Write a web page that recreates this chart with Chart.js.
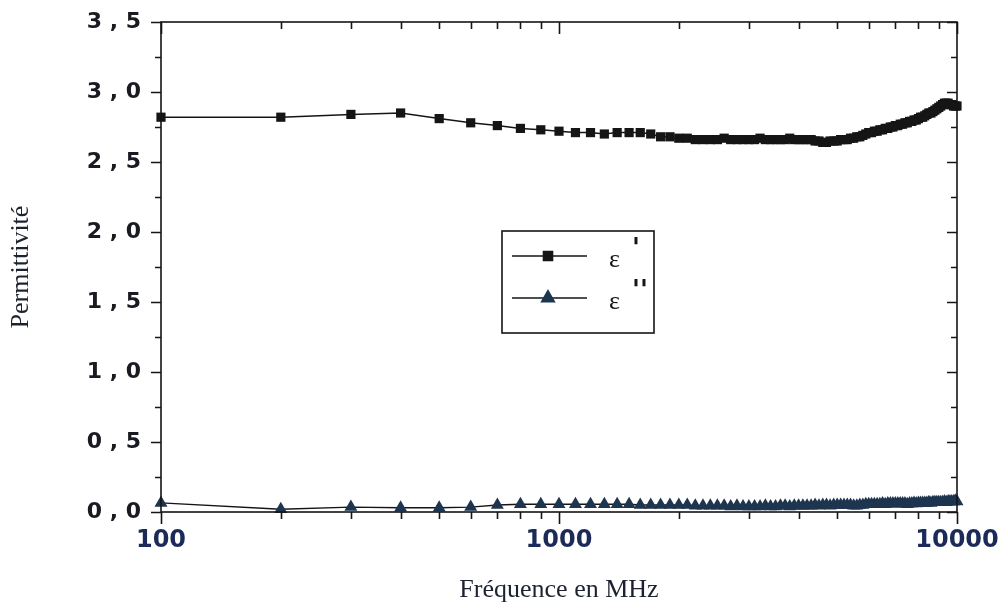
<!DOCTYPE html>
<html>
<head>
<meta charset="utf-8">
<title>Permittivité</title>
<script src="https://cdn.jsdelivr.net/npm/chart.js@4/dist/chart.umd.min.js"></script>
<style>
  body { margin: 0; background: #fff; }
  #wrap { width: 1002px; height: 606px; }
</style>
</head>
<body>
<div id="wrap"><canvas id="permChart" width="1002" height="606"></canvas></div>
<script>
// Fréquences (MHz)
const freqs = [
  100, 200, 300, 400, 500, 600, 700, 800, 900, 1000,
  1100, 1200, 1300, 1400, 1500, 1600, 1700, 1800, 1900, 2000,
  2100, 2200, 2300, 2400, 2500, 2600, 2700, 2800, 2900, 3000,
  3100, 3200, 3300, 3400, 3500, 3600, 3700, 3800, 3900, 4000,
  4100, 4200, 4300, 4400, 4500, 4600, 4700, 4800, 4900, 5000,
  5100, 5200, 5300, 5400, 5500, 5600, 5700, 5800, 5900, 6000,
  6100, 6200, 6300, 6400, 6500, 6600, 6700, 6800, 6900, 7000,
  7100, 7200, 7300, 7400, 7500, 7600, 7700, 7800, 7900, 8000,
  8100, 8200, 8300, 8400, 8500, 8600, 8700, 8800, 8900, 9000,
  9100, 9200, 9300, 9400, 9500, 9600, 9700, 9800, 9900, 10000
];

// ε'
const epsReal = [
  2.82, 2.82, 2.84, 2.85, 2.81, 2.78, 2.76, 2.74, 2.73, 2.72,
  2.71, 2.71, 2.70, 2.71, 2.71, 2.71, 2.70, 2.68, 2.68, 2.67,
  2.67, 2.66, 2.66, 2.66, 2.66, 2.67, 2.66, 2.66, 2.66, 2.66,
  2.66, 2.67, 2.66, 2.66, 2.66, 2.66, 2.66, 2.67, 2.66, 2.66,
  2.66, 2.66, 2.66, 2.65, 2.65, 2.64, 2.64, 2.65, 2.65, 2.65,
  2.66, 2.66, 2.66, 2.67, 2.67, 2.68, 2.68, 2.69, 2.70, 2.71,
  2.71, 2.72, 2.72, 2.73, 2.73, 2.74, 2.74, 2.75, 2.75, 2.76,
  2.76, 2.77, 2.77, 2.78, 2.78, 2.79, 2.79, 2.80, 2.80, 2.81,
  2.82, 2.82, 2.83, 2.84, 2.85, 2.85, 2.86, 2.87, 2.88, 2.89,
  2.90, 2.91, 2.92, 2.92, 2.92, 2.91, 2.91, 2.90, 2.90, 2.90
];

// ε''
const epsImag = [
  0.065, 0.02, 0.035, 0.03, 0.03, 0.035, 0.05, 0.055, 0.055, 0.055,
  0.055, 0.055, 0.055, 0.055, 0.055, 0.05, 0.05, 0.05, 0.05, 0.05,
  0.05, 0.045, 0.045, 0.045, 0.045, 0.045, 0.04, 0.045, 0.04, 0.04,
  0.04, 0.04, 0.045, 0.04, 0.04, 0.045, 0.045, 0.04, 0.045, 0.045,
  0.045, 0.045, 0.045, 0.05, 0.045, 0.05, 0.05, 0.045, 0.05, 0.05,
  0.05, 0.05, 0.05, 0.05, 0.045, 0.045, 0.05, 0.05, 0.055, 0.055,
  0.055, 0.055, 0.055, 0.055, 0.06, 0.055, 0.06, 0.06, 0.06, 0.06,
  0.06, 0.06, 0.06, 0.06, 0.055, 0.06, 0.06, 0.065, 0.06, 0.065,
  0.065, 0.065, 0.065, 0.065, 0.07, 0.065, 0.07, 0.07, 0.07, 0.07,
  0.07, 0.07, 0.075, 0.07, 0.075, 0.075, 0.075, 0.075, 0.08, 0.075
];

// graduations
const xTickLabels = [100, 1000, 10000];
const xMinorTicks = [200, 300, 400, 500, 600, 700, 800, 900, 2000, 3000, 4000, 5000, 6000, 7000, 8000, 9000];
const yTickLabels = [0, 0.5, 1.0, 1.5, 2.0, 2.5, 3.0, 3.5];
const yMinorTicks = [0.25, 0.75, 1.25, 1.75, 2.25, 2.75, 3.25];

const seriesNames = ['ε', 'ε'];
const seriesPrimes = ['\'', '\'\''];

const inkColor = '#151515';
const imagColor = '#1e3550';

// cadre + graduations (gauche/bas vers l'extérieur, droite/haut vers l'intérieur)
const framePlugin = {
  id: 'frame',
  afterDatasetsDraw(chart) {
    const { ctx, chartArea: a, scales } = chart;
    const x = scales.x, y = scales.y;
    ctx.save();
    ctx.strokeStyle = inkColor;
    ctx.lineWidth = 1.6;
    ctx.strokeRect(a.left, a.top, a.right - a.left, a.bottom - a.top);

    function yTick(v, len) {
      const py = Math.round(y.getPixelForValue(v)) + 0.5;
      ctx.beginPath();
      ctx.moveTo(a.left - len, py); ctx.lineTo(a.left, py);
      ctx.moveTo(a.right, py); ctx.lineTo(a.right - len, py);
      ctx.stroke();
    }
    function xTick(v, len) {
      const px = Math.round(x.getPixelForValue(v)) + 0.5;
      ctx.beginPath();
      ctx.moveTo(px, a.bottom); ctx.lineTo(px, a.bottom + len);
      ctx.moveTo(px, a.top); ctx.lineTo(px, a.top + len);
      ctx.stroke();
    }
    yTickLabels.forEach(v => yTick(v, 10));
    yMinorTicks.forEach(v => yTick(v, 6));
    xTickLabels.forEach(v => xTick(v, 12));
    xMinorTicks.forEach(v => xTick(v, 7));
    ctx.restore();
  }
};

// légende encadrée au centre du graphique
const legendPlugin = {
  id: 'boxLegend',
  afterDraw(chart) {
    const ctx = chart.ctx;
    const bx = 502, by = 231, bw = 152, bh = 102;
    ctx.save();
    ctx.strokeStyle = inkColor;
    ctx.lineWidth = 1.6;
    ctx.strokeRect(bx, by, bw, bh);

    const rows = [256, 298];
    chart.data.datasets.forEach((ds, i) => {
      const ry = rows[i];
      ctx.strokeStyle = inkColor;
      ctx.lineWidth = 1.4;
      ctx.beginPath();
      ctx.moveTo(512, ry); ctx.lineTo(587, ry);
      ctx.stroke();
      ctx.save();
      ctx.fillStyle = ds.backgroundColor;
      ctx.strokeStyle = ds.backgroundColor;
      Chart.helpers.drawPoint(ctx, {
        pointStyle: ds.pointStyle, radius: ds.pointRadius, borderWidth: 1
      }, 548, ry);
      ctx.restore();
      ctx.fillStyle = inkColor;
      ctx.font = '26px "Liberation Serif"';
      ctx.textBaseline = 'middle';
      ctx.fillText(seriesNames[i], 609, ry + 4);
      ctx.font = 'bold 26px "DejaVu Sans"';
      ctx.fillText(seriesPrimes[i], 632, ry - 6);
    });
    ctx.restore();
  }
};

const ctxPerm = document.getElementById('permChart').getContext('2d');
new Chart(ctxPerm, {
  type: 'line',
  data: {
    datasets: [{
      label: "ε'",
      data: freqs.map((f, i) => ({ x: f, y: epsReal[i] })),
      borderColor: inkColor,
      backgroundColor: inkColor,
      borderWidth: 1.5,
      pointStyle: 'rect',
      pointRadius: 6.5,
      pointBorderWidth: 0,
      tension: 0,
      clip: false
    }, {
      label: "ε''",
      data: freqs.map((f, i) => ({ x: f, y: epsImag[i] })),
      borderColor: inkColor,
      backgroundColor: imagColor,
      borderWidth: 1.4,
      pointStyle: 'triangle',
      pointRadius: 7.5,
      pointBorderWidth: 0,
      tension: 0,
      clip: false
    }]
  },
  options: {
    responsive: false,
    animation: false,
    devicePixelRatio: 1,
    layout: { padding: { left: 0, right: 45, top: 22, bottom: 0 } },
    plugins: { legend: { display: false }, tooltip: { enabled: false } },
    scales: {
      x: {
        type: 'logarithmic',
        min: 100,
        max: 10000,
        grid: { display: false, drawTicks: false },
        border: { display: false },
        afterFit: s => { s.height = 94; s.paddingLeft = 0; s.paddingRight = 0; },
        ticks: {
          autoSkip: false,
          maxRotation: 0,
          padding: 14,
          color: '#1b2a58',
          font: { family: 'DejaVu Sans', weight: 'bold', size: 24 },
          callback: v => xTickLabels.includes(v) ? String(v) : ''
        },
        title: {
          display: true,
          text: 'Fréquence en MHz',
          color: '#1d2230',
          font: { family: 'Liberation Serif', size: 26 },
          padding: { top: 0, bottom: 0 }
        }
      },
      y: {
        min: 0,
        max: 3.5,
        grid: { display: false, drawTicks: false },
        border: { display: false },
        afterFit: s => { s.width = 161; s.paddingTop = 0; s.paddingBottom = 0; },
        ticks: {
          stepSize: 0.5,
          padding: 20,
          color: '#1a1a22',
          font: { family: 'DejaVu Sans', weight: 'bold', size: 22 },
          callback: v => v.toFixed(1).replace('.', ' , ')
        },
        title: {
          display: true,
          text: 'Permittivité',
          color: '#1d2230',
          font: { family: 'Liberation Serif', size: 26 },
          padding: { top: 6, bottom: 0 }
        }
      }
    }
  },
  plugins: [framePlugin, legendPlugin]
});
</script>
</body>
</html>
